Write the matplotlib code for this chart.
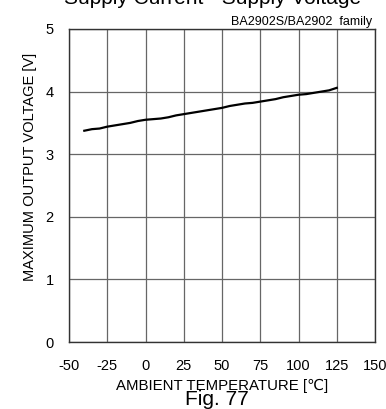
import matplotlib
matplotlib.use("Agg")
import matplotlib.pyplot as plt

plt.rcParams['font.family'] = ['Liberation Sans', 'DejaVu Sans']
plt.rcParams['axes.unicode_minus'] = False

# 读取的曲线数据
temperature = [-40, -35, -30, -25, -20, -15, -10, -5, 0, 5, 10, 15, 20, 25, 30, 35, 40,
               45, 50, 55, 60, 65, 70, 75, 80, 85, 90, 95, 100, 105, 110, 115, 120, 125]
max_output_voltage = [3.375, 3.40, 3.41, 3.44, 3.46, 3.48, 3.50, 3.53, 3.55, 3.56, 3.57,
                      3.59, 3.62, 3.64, 3.66, 3.68, 3.70, 3.72, 3.74, 3.77, 3.79, 3.81,
                      3.82, 3.84, 3.86, 3.88, 3.91, 3.93, 3.95, 3.96, 3.98, 4.00, 4.02, 4.06]

x_ticks = [-50, -25, 0, 25, 50, 75, 100, 125, 150]
y_ticks = [0, 1, 2, 3, 4, 5]

W, H = 386, 409
fig = plt.figure(figsize=(W / 100, H / 100), dpi=100)
ax = fig.add_axes([69 / W, 1 - 342 / H, 306 / W, 313 / H])

ax.plot(temperature, max_output_voltage, color='black', linewidth=1.6)

ax.set_xlim(-50, 150)
ax.set_ylim(0, 5)
ax.set_xticks(x_ticks)
ax.set_yticks(y_ticks)
ax.tick_params(length=0, labelsize=10.5)
ax.tick_params(axis='x', pad=12)
ax.tick_params(axis='y', pad=11)
ax.grid(True, color='#666666', linewidth=0.9)
for s in ax.spines.values():
    s.set_color('#333333')
    s.set_linewidth(1.0)

# 文字位置按像素放置
fig.text(222 / W, 1 - 390 / H, 'AMBIENT TEMPERATURE [℃]', ha='center', va='baseline', fontsize=10.8)
fig.text(30 / W, 1 - 167 / H, 'MAXIMUM OUTPUT VOLTAGE [V]', ha='center', va='center',
         rotation=90, fontsize=10.5)
fig.text(213 / W, 1 - 4 / H, 'Supply Current - Supply Voltage', ha='center', va='baseline', fontsize=15)
fig.text(372 / W, 1 - 25 / H, 'BA2902S/BA2902  family', ha='right', va='baseline', fontsize=9)
fig.text(217 / W, 1 - 405 / H, 'Fig. 77', ha='center', va='baseline', fontsize=15)

fig.savefig('out.png', dpi=100)
